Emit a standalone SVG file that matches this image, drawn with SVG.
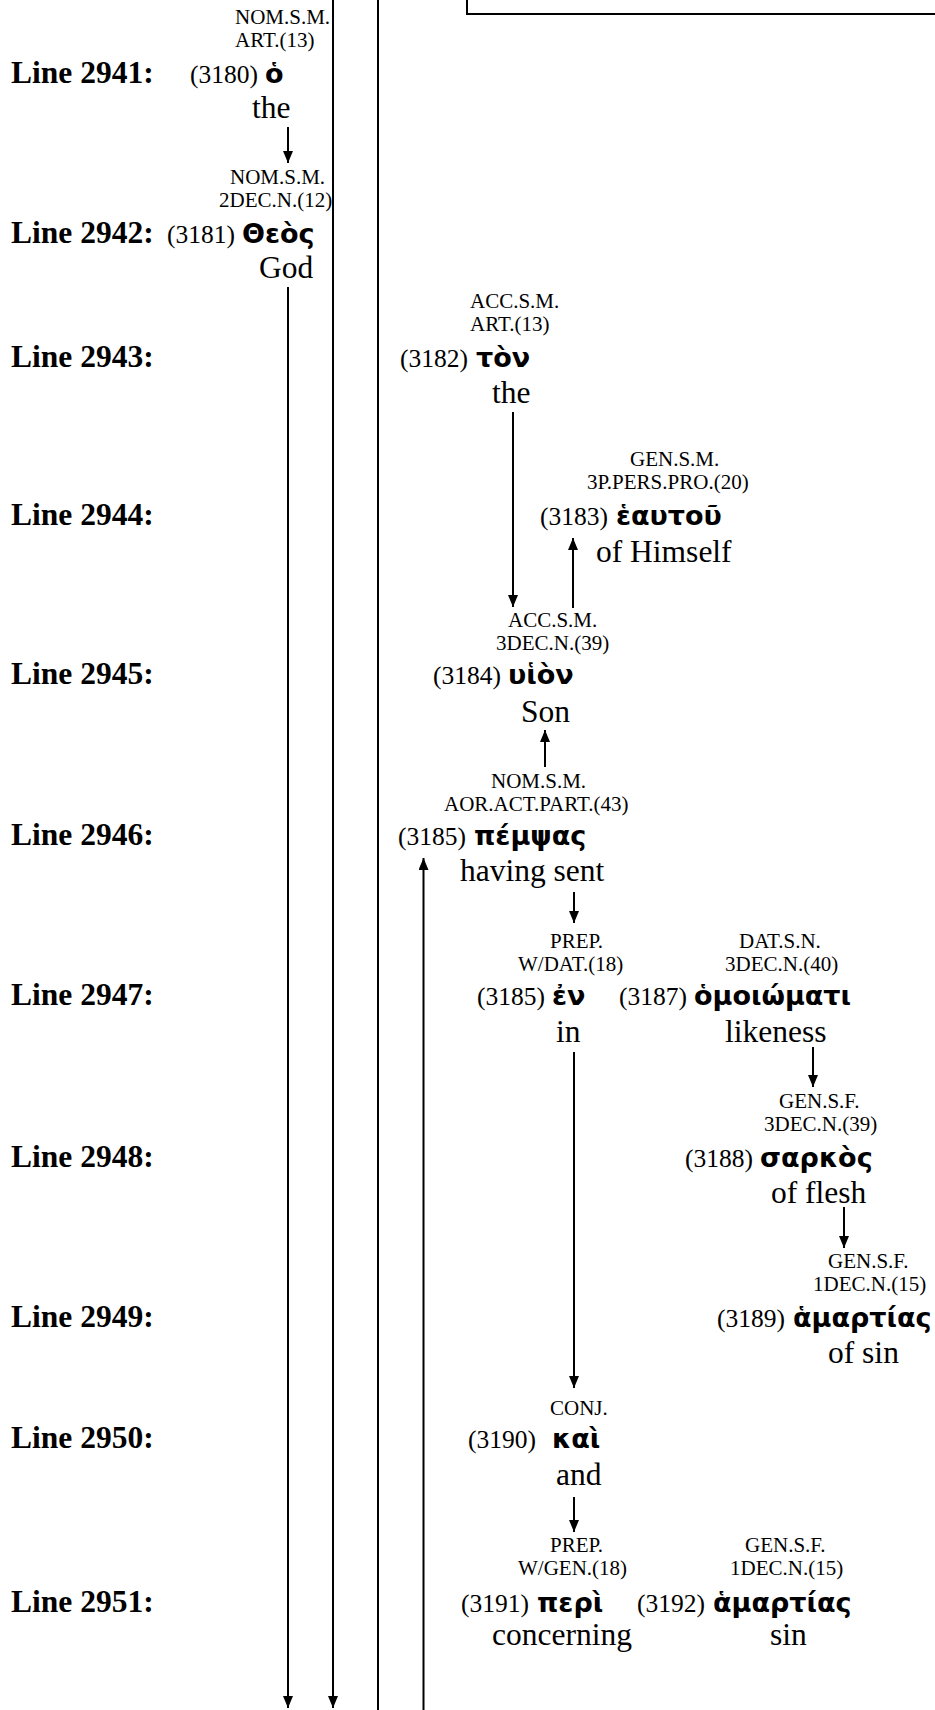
<svg xmlns="http://www.w3.org/2000/svg" width="935" height="1710" viewBox="0 0 935 1710">
<style>
.ln{font-family:"Liberation Serif","Times New Roman",serif;font-weight:bold;font-size:31.5px;fill:#000}
.gr{font-family:"Liberation Serif","Times New Roman",serif;font-size:21px;fill:#000}
.num{font-family:"Liberation Serif","Times New Roman",serif;font-size:25.5px;fill:#000;text-anchor:end}
.gk{font-family:"DejaVu Sans","Noto Sans",sans-serif;font-weight:bold;font-size:27px;fill:#000}
.gl{font-family:"Liberation Serif","Times New Roman",serif;font-size:31.5px;fill:#000}
.c{stroke:#000;stroke-width:2;fill:none}
</style>
<defs>
<marker id="ah" markerUnits="userSpaceOnUse" markerWidth="13" markerHeight="10" refX="12" refY="5" orient="auto">
<path d="M0,0 L12,5 L0,10 z" fill="#000"/>
</marker>
</defs>
<rect x="467" y="-20" width="500" height="34" fill="#fff" stroke="#000" stroke-width="2"/>
<g id="labels">
<text class="ln" x="11" y="83">Line 2941:</text>
<text class="ln" x="11" y="243">Line 2942:</text>
<text class="ln" x="11" y="367">Line 2943:</text>
<text class="ln" x="11" y="525">Line 2944:</text>
<text class="ln" x="11" y="684">Line 2945:</text>
<text class="ln" x="11" y="845">Line 2946:</text>
<text class="ln" x="11" y="1005">Line 2947:</text>
<text class="ln" x="11" y="1167">Line 2948:</text>
<text class="ln" x="11" y="1327">Line 2949:</text>
<text class="ln" x="11" y="1448">Line 2950:</text>
<text class="ln" x="11" y="1612">Line 2951:</text>
</g>
<g id="connectors">
<line class="c" x1="288" y1="127" x2="288" y2="163" marker-end="url(#ah)"/>
<line class="c" x1="288" y1="287" x2="288" y2="1708" marker-end="url(#ah)"/>
<line class="c" x1="333" y1="0" x2="333" y2="1708" marker-end="url(#ah)"/>
<line class="c" x1="378" y1="0" x2="378" y2="1710"/>
<line class="c" x1="513" y1="412" x2="513" y2="607" marker-end="url(#ah)"/>
<line class="c" x1="573" y1="608" x2="573" y2="538" marker-end="url(#ah)"/>
<line class="c" x1="545" y1="767" x2="545" y2="730" marker-end="url(#ah)"/>
<line class="c" x1="423.5" y1="1710" x2="423.5" y2="858" marker-end="url(#ah)"/>
<line class="c" x1="574" y1="892" x2="574" y2="923" marker-end="url(#ah)"/>
<line class="c" x1="574" y1="1052" x2="574" y2="1388" marker-end="url(#ah)"/>
<line class="c" x1="813" y1="1047" x2="813" y2="1087" marker-end="url(#ah)"/>
<line class="c" x1="844" y1="1207" x2="844" y2="1248" marker-end="url(#ah)"/>
<line class="c" x1="574" y1="1497" x2="574" y2="1532" marker-end="url(#ah)"/>
</g>
<g id="n3180">
<text class="gr" x="235" y="24">NOM.S.M.</text>
<text class="gr" x="235" y="47">ART.(13)</text>
<text class="num" x="258" y="83">(3180)</text>
<text class="gk" x="265" y="83">ὁ</text>
<text class="gl" x="252" y="118">the</text>
</g>
<g id="n3181">
<text class="gr" x="230" y="184">NOM.S.M.</text>
<text class="gr" x="219" y="207">2DEC.N.(12)</text>
<text class="num" x="235" y="243">(3181)</text>
<text class="gk" x="242" y="243">Θεὸς</text>
<text class="gl" x="259" y="278">God</text>
</g>
<g id="n3182">
<text class="gr" x="470" y="308">ACC.S.M.</text>
<text class="gr" x="470" y="331">ART.(13)</text>
<text class="num" x="468" y="367">(3182)</text>
<text class="gk" x="476" y="367">τὸν</text>
<text class="gl" x="492" y="403">the</text>
</g>
<g id="n3183">
<text class="gr" x="630" y="466">GEN.S.M.</text>
<text class="gr" x="587" y="489">3P.PERS.PRO.(20)</text>
<text class="num" x="608" y="525">(3183)</text>
<text class="gk" x="616" y="525">ἑαυτοῦ</text>
<text class="gl" x="596" y="562">of Himself</text>
</g>
<g id="n3184">
<text class="gr" x="508" y="627">ACC.S.M.</text>
<text class="gr" x="496" y="650">3DEC.N.(39)</text>
<text class="num" x="501" y="684">(3184)</text>
<text class="gk" x="508" y="684">υἱὸν</text>
<text class="gl" x="521" y="722">Son</text>
</g>
<g id="n3185">
<text class="gr" x="491" y="788">NOM.S.M.</text>
<text class="gr" x="444" y="811">AOR.ACT.PART.(43)</text>
<text class="num" x="466" y="845">(3185)</text>
<text class="gk" x="474" y="845">πέμψας</text>
<text class="gl" x="460" y="881">having sent</text>
</g>
<g id="n3186">
<text class="gr" x="550" y="948">PREP.</text>
<text class="gr" x="518" y="971">W/DAT.(18)</text>
<text class="num" x="545" y="1005">(3185)</text>
<text class="gk" x="552" y="1005">ἐν</text>
<text class="gl" x="556" y="1042">in</text>
</g>
<g id="n3187">
<text class="gr" x="739" y="948">DAT.S.N.</text>
<text class="gr" x="725" y="971">3DEC.N.(40)</text>
<text class="num" x="687" y="1005">(3187)</text>
<text class="gk" x="694" y="1005">ὁμοιώματι</text>
<text class="gl" x="725" y="1042">likeness</text>
</g>
<g id="n3188">
<text class="gr" x="779" y="1108">GEN.S.F.</text>
<text class="gr" x="764" y="1131">3DEC.N.(39)</text>
<text class="num" x="753" y="1167">(3188)</text>
<text class="gk" x="760" y="1167">σαρκὸς</text>
<text class="gl" x="771" y="1203">of flesh</text>
</g>
<g id="n3189">
<text class="gr" x="828" y="1268">GEN.S.F.</text>
<text class="gr" x="813" y="1291">1DEC.N.(15)</text>
<text class="num" x="785" y="1327">(3189)</text>
<text class="gk" x="793" y="1327">ἁμαρτίας</text>
<text class="gl" x="828" y="1363">of sin</text>
</g>
<g id="n3190">
<text class="gr" x="550" y="1415">CONJ.</text>
<text class="num" x="536" y="1448">(3190)</text>
<text class="gk" x="552" y="1448">καὶ</text>
<text class="gl" x="556" y="1485">and</text>
</g>
<g id="n3191">
<text class="gr" x="550" y="1552">PREP.</text>
<text class="gr" x="518" y="1575">W/GEN.(18)</text>
<text class="num" x="529" y="1612">(3191)</text>
<text class="gk" x="537" y="1612">περὶ</text>
<text class="gl" x="492" y="1645">concerning</text>
</g>
<g id="n3192">
<text class="gr" x="745" y="1552">GEN.S.F.</text>
<text class="gr" x="730" y="1575">1DEC.N.(15)</text>
<text class="num" x="705" y="1612">(3192)</text>
<text class="gk" x="713" y="1612">ἁμαρτίας</text>
<text class="gl" x="770" y="1645">sin</text>
</g>
</svg>
